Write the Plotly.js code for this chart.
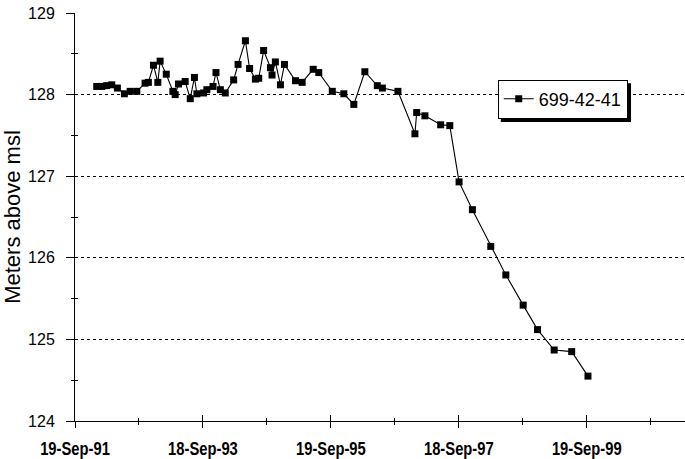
<!DOCTYPE html>
<html>
<head>
<meta charset="utf-8">
<script src="https://cdn.plot.ly/plotly-3.0.1.min.js"></script>
<style>html,body{margin:0;padding:0;background:#fff;}#chart{width:685px;height:459px;}</style>
</head>
<body>
<div id="chart"></div>
<script>
// Data
const seriesName = '699-42-41';
const dates = ['1992-01-21','1992-02-19','1992-03-18','1992-04-16','1992-05-18','1992-06-27','1992-07-30','1992-09-06','1992-10-23','1992-11-11',
'1992-12-10','1993-01-04','1993-01-17','1993-02-21','1993-03-31','1993-04-13','1993-05-02','1993-06-09','1993-07-08','1993-08-01',
'1993-08-15','1993-09-22','1993-10-11','1993-11-15','1993-12-02','1993-12-27','1994-01-24','1994-03-13','1994-04-07','1994-05-19',
'1994-06-12','1994-07-15','1994-08-03','1994-08-31','1994-10-09','1994-10-18','1994-11-06','1994-12-05','1994-12-28','1995-03-01',
'1995-04-08','1995-06-10','1995-07-12','1995-09-27','1995-12-02','1996-01-28','1996-03-31','1996-06-10','1996-07-09','1996-10-06',
'1997-01-11','1997-01-21','1997-03-09','1997-06-07','1997-07-29','1997-09-20','1997-12-05','1998-03-20','1998-06-14','1998-09-21',
'1998-12-12','1999-03-17','1999-06-25','1999-09-26'];
const levels = [128.10,128.10,128.11,128.12,128.08,128.01,128.04,128.04,128.14,128.15,
128.36,128.15,128.41,128.25,128.04,128.00,128.13,128.16,127.95,128.21,
128.01,128.02,128.06,128.10,128.27,128.06,128.02,128.18,128.37,128.66,
128.32,128.19,128.20,128.54,128.33,128.24,128.40,128.12,128.37,128.17,
128.15,128.31,128.27,128.04,128.01,127.88,128.28,128.11,128.08,128.04,
127.52,127.78,127.74,127.63,127.62,126.93,126.59,126.14,125.79,125.42,
125.12,124.87,124.85,124.55];

const xTickVals = ['1991-09-19','1993-09-18 12:00','1995-09-19','1997-09-18 12:00','1999-09-19'];
const xTickText = ['19-Sep-91','18-Sep-93','19-Sep-95','18-Sep-97','19-Sep-99'];
const xRange = ['1991-09-19','2001-04-02'];
const yTickVals = [124,125,126,127,128,129];
const yTickText = ['124','125','126','127','128','129'];
const yGridVals = [125,126,127,128];
const yRange = [124,129];
const yTitle = 'Meters above msl';

const YEAR_MS = 365.25*86400000;
const baseFont = 'Liberation Sans, Arial, sans-serif';

const traces = [
  {
    x: dates, y: levels, name: seriesName, type: 'scatter', mode: 'lines+markers',
    line: {color: '#000', width: 1.1},
    marker: {symbol: 'square', size: 7, color: '#000'},
    xaxis: 'x', yaxis: 'y'
  },
  {x: dates, y: levels, type: 'scatter', mode: 'markers', marker: {opacity: 0}, showlegend: false, hoverinfo: 'skip', xaxis: 'x2', yaxis: 'y2'},
  {x: dates, y: levels, type: 'scatter', mode: 'markers', marker: {opacity: 0}, showlegend: false, hoverinfo: 'skip', xaxis: 'x', yaxis: 'y3'}
];

const layout = {
  width: 685, height: 459,
  margin: {l: 75, r: 0, t: 13, b: 38, pad: 0},
  paper_bgcolor: '#fff', plot_bgcolor: '#fff',
  font: {family: baseFont, color: '#000', size: 15},
  showlegend: true,
  legend: {
    x: 0.693, y: 0.837, xanchor: 'left', yanchor: 'top',
    bgcolor: '#fff', bordercolor: '#000', borderwidth: 1,
    font: {family: baseFont, size: 18, color: '#000'},
    itemwidth: 30, tracegroupgap: 0
  },
  shapes: [
    {type: 'rect', xref: 'paper', yref: 'paper', layer: 'above',
     x0: 0.698, x1: 0.9115, y0: 0.733, y1: 0.828,
     fillcolor: '#000', line: {width: 0}}
  ],
  xaxis: {
    type: 'date', range: xRange,
    tickmode: 'array', tickvals: xTickVals, ticktext: xTickText,
    ticks: 'outside', ticklen: 6, tickwidth: 1, tickcolor: '#000',
    minor: {ticks: 'outside', ticklen: 3, tickwidth: 1, tickcolor: '#000', dtick: YEAR_MS, tick0: '1991-09-19', showgrid: false},
    tickfont: {family: baseFont, size: 18, color: '#000', weight: 'bold'},
    ticklabelstandoff: 5,
    showline: true, linecolor: '#000', linewidth: 1,
    showgrid: false, zeroline: false, fixedrange: true
  },
  xaxis2: {
    type: 'date', range: xRange, overlaying: 'x', matches: 'x',
    tickmode: 'array', tickvals: xTickVals,
    ticks: 'inside', ticklen: 6, tickwidth: 1, tickcolor: '#000',
    minor: {ticks: 'inside', ticklen: 3, tickwidth: 1, tickcolor: '#000', dtick: YEAR_MS, tick0: '1991-09-19', showgrid: false},
    showticklabels: false, showline: false, showgrid: false, zeroline: false
  },
  yaxis: {
    range: yRange, tickmode: 'array', tickvals: yTickVals, ticktext: yTickText,
    ticks: 'outside', ticklen: 8, tickwidth: 1, tickcolor: '#000',
    minor: {ticks: 'outside', ticklen: 3, tickwidth: 1, tickcolor: '#000', dtick: 0.5, showgrid: false},
    tickfont: {family: baseFont, size: 16, color: '#000'},
    ticklabelstandoff: 8,
    showline: true, linecolor: '#000', linewidth: 1,
    showgrid: false, zeroline: false,
    title: {text: yTitle, font: {family: baseFont, size: 22, color: '#000'}, standoff: 6}
  },
  yaxis2: {
    range: yRange, overlaying: 'y', matches: 'y', anchor: 'x2',
    tickmode: 'array', tickvals: yTickVals,
    ticks: 'inside', ticklen: 3, tickwidth: 1, tickcolor: '#000',
    minor: {ticks: 'inside', ticklen: 3, tickwidth: 1, tickcolor: '#000', dtick: 0.5, showgrid: false},
    showticklabels: false, showline: false, showgrid: false, zeroline: false
  },
  yaxis3: {
    range: yRange, overlaying: 'y', anchor: 'x',
    tickmode: 'array', tickvals: yGridVals, ticks: '',
    showticklabels: false, showline: false,
    showgrid: true, gridcolor: '#000', gridwidth: 1.2, griddash: 'dot', zeroline: false
  }
};

Plotly.newPlot('chart', traces, layout, {staticPlot: true, displayModeBar: false}).then(function () {
  // narrow (condensed) look for the bold date labels, as in the original
  document.querySelectorAll('#chart .xtick text').forEach(function (t) {
    var w = t.getComputedTextLength();
    t.setAttribute('textLength', (w * 0.82).toFixed(1));
    t.setAttribute('lengthAdjust', 'spacingAndGlyphs');
  });
});
</script>
</body>
</html>
